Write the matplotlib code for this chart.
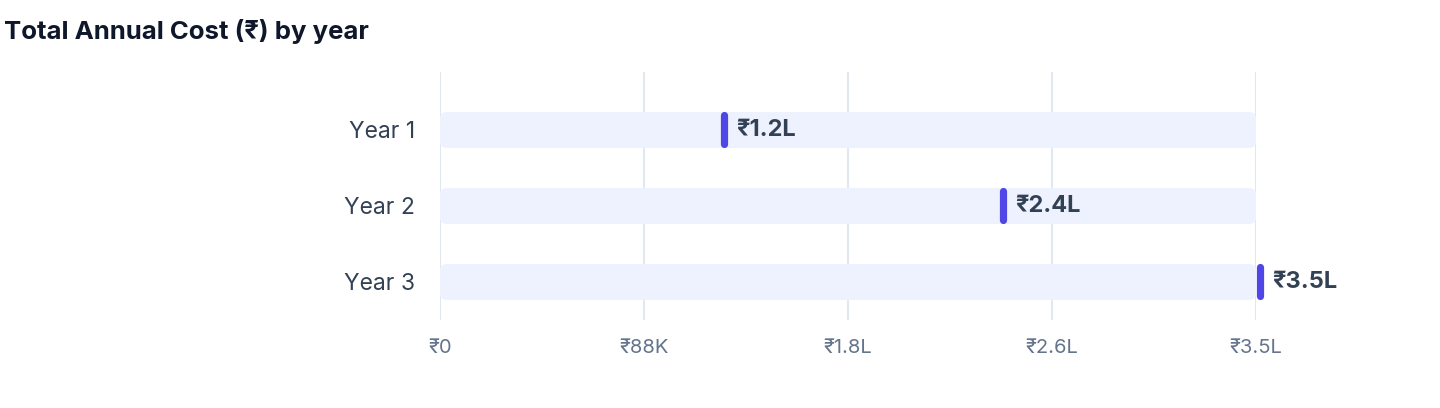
import matplotlib
matplotlib.use("Agg")
import matplotlib.pyplot as plt
from matplotlib.patches import FancyBboxPatch
import numpy as np

plt.rcParams['font.family'] = ['Inter', 'DejaVu Sans']

years = ["Year 1", "Year 2", "Year 3"]
costs = [121800, 241500, 351700]
value_labels = ["₹1.2L", "₹2.4L", "₹3.5L"]
axis_max = 350000
tick_values = [0, 87500, 175000, 262500, 350000]
tick_labels = ["₹0", "₹88K", "₹1.8L", "₹2.6L", "₹3.5L"]

W, H = 1440, 408
fig = plt.figure(figsize=(W / 100, H / 100), dpi=100)
ax = fig.add_axes([440 / W, 1 - 320 / H, 816 / W, 248 / H])

ax.set_xlim(0, axis_max)
ax.set_ylim(2.5, -0.763)

# pixel -> data conversions
px_x = axis_max / 816
px_y = 1 / 76

for x in tick_values:
    ax.axvline(x, color="#E2E8F0", lw=1.5, zorder=0)

ypos = np.arange(len(years))
for y, v, lab in zip(ypos, costs, value_labels):
    track = FancyBboxPatch((0, y - 18 * px_y), axis_max, 36 * px_y,
                           boxstyle="round,pad=0,rounding_size=%f" % (7 * px_x),
                           mutation_aspect=px_y / px_x,
                           fc="#EEF2FF", ec="none", zorder=1)
    ax.add_patch(track)
    ax.plot([v, v], [y - 14.5 * px_y, y + 14.5 * px_y], color="#4F46E5",
            lw=5.2, solid_capstyle="round", zorder=3, clip_on=False)
    ax.text(v + 12 * px_x, y, lab, ha="left", va="center", fontsize=17,
            fontweight="bold", color="#334155", zorder=4, clip_on=False)

ax.set_yticks(ypos)
ax.set_yticklabels(years, fontsize=16.5, color="#334155")
ax.set_xticks(tick_values)
ax.set_xticklabels(tick_labels, fontsize=14.5, color="#64748B")
ax.tick_params(axis="y", length=0, pad=18)
ax.tick_params(axis="x", length=0, pad=14)
for s in ax.spines.values():
    s.set_visible(False)

fig.text(4 / W, 1 - 32 / H, "Total Annual Cost (₹) by year", ha="left", va="center",
         fontsize=18.5, fontweight="bold", color="#0F172A")

fig.savefig("out.png", dpi=100)
